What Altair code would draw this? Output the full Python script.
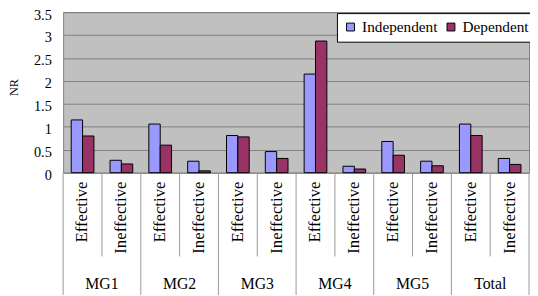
import altair as alt
import pandas as pd

groups = ["MG1", "MG2", "MG3", "MG4", "MG5", "Total"]
kinds = ["Effective", "Ineffective"]
series = ["Independent", "Dependent"]
independent = [1.15, 0.27, 1.06, 0.25, 0.81, 0.46, 2.15, 0.14, 0.68, 0.25, 1.06, 0.31]
dependent = [0.80, 0.19, 0.60, 0.04, 0.78, 0.31, 2.87, 0.08, 0.38, 0.15, 0.81, 0.18]
y_ticks = [0, 0.5, 1, 1.5, 2, 2.5, 3, 3.5]
colors = ["#9999FF", "#993366"]

cats = [f"{g}|{k}" for g in groups for k in kinds]
rows = []
for i, c in enumerate(cats):
    g, k = c.split("|")
    rows.append(dict(cat=c, group=g, kind=k, series="Independent", value=independent[i]))
    rows.append(dict(cat=c, group=g, kind=k, series="Dependent", value=dependent[i]))
df = pd.DataFrame(rows)
cat_df = pd.DataFrame({"cat": cats,
                       "group": [c.split("|")[0] for c in cats],
                       "kind": [c.split("|")[1] for c in cats]})

FONT = "Liberation Serif"
W, H = 473, 163
xscale = alt.Scale(domain=cats, paddingInner=0, paddingOuter=0)

bars = alt.Chart(df).mark_bar(stroke="black", strokeWidth=1).encode(
    x=alt.X("cat:N", scale=xscale, axis=None, sort=cats),
    xOffset=alt.XOffset("series:N", sort=series,
                        scale=alt.Scale(paddingOuter=0.71, paddingInner=0)),
    y=alt.Y("value:Q", scale=alt.Scale(domain=[0, 3.5], nice=False),
            axis=alt.Axis(values=y_ticks, title="NR", format="~g", grid=True,
                          gridColor="#808080", gridOpacity=1, domain=False,
                          ticks=False, labelPadding=12, labelOffset=3,
                          labelFontSize=14.5, labelColor="black",
                          titleFontSize=12.5, titleFontWeight="normal",
                          titleColor="black", titleX=-50, titleY=76,
                          titleAlign="center", titleBaseline="middle")),
    color=alt.Color("series:N", scale=alt.Scale(domain=series, range=colors),
                    legend=alt.Legend(orient="none", legendX=278, legendY=1,
                                      direction="horizontal", title=None,
                                      fillColor="white", strokeColor="black",
                                      padding=6, symbolType="square", symbolSize=64,
                                      symbolStrokeColor="black", symbolStrokeWidth=1,
                                      labelFontSize=15.5,
                                      labelColor="black", labelOffset=4,
                                      columnPadding=5)),
)

rule_major = alt.Chart(cat_df).transform_filter(alt.datum.kind == "Effective").mark_rule(
    color="#999999", strokeWidth=1).encode(
    x=alt.X("cat:N", scale=xscale, axis=None, sort=cats, bandPosition=0),
    y=alt.value(H), y2=alt.value(290))
rule_minor = alt.Chart(cat_df).transform_filter(alt.datum.kind == "Ineffective").mark_rule(
    color="#999999", strokeWidth=1).encode(
    x=alt.X("cat:N", scale=xscale, axis=None, sort=cats, bandPosition=0),
    y=alt.value(H), y2=alt.value(248))
rule_end = alt.Chart(cat_df).transform_filter(alt.datum.cat == cats[-1]).mark_rule(
    color="#999999", strokeWidth=1).encode(
    x=alt.value(W), y=alt.value(H), y2=alt.value(290))

kind_text = alt.Chart(cat_df).mark_text(
    angle=270, align="right", baseline="middle", font=FONT, fontSize=17,
    color="black").encode(
    x=alt.X("cat:N", scale=xscale, axis=None, sort=cats),
    y=alt.value(172), text="kind:N")

group_text = alt.Chart(cat_df).transform_filter(alt.datum.kind == "Ineffective").mark_text(
    align="center", baseline="middle", font=FONT, fontSize=16, color="black").encode(
    x=alt.X("cat:N", scale=xscale, axis=None, sort=cats, bandPosition=0),
    y=alt.value(276), text="group:N")

chart = alt.layer(bars, rule_major, rule_minor, rule_end, kind_text, group_text).properties(
    width=W, height=H,
    autosize=alt.AutoSizeParams(type="none"),
    padding={"left": 56, "top": 2, "right": 1, "bottom": 122},
    background="white",
).configure(font=FONT).configure_axis(
    labelFont=FONT, titleFont=FONT
).configure_legend(labelFont=FONT).configure_view(fill="#C0C0C0", stroke="#808080")

chart.save("out.html", embed_options={"renderer": "svg", "actions": False})
